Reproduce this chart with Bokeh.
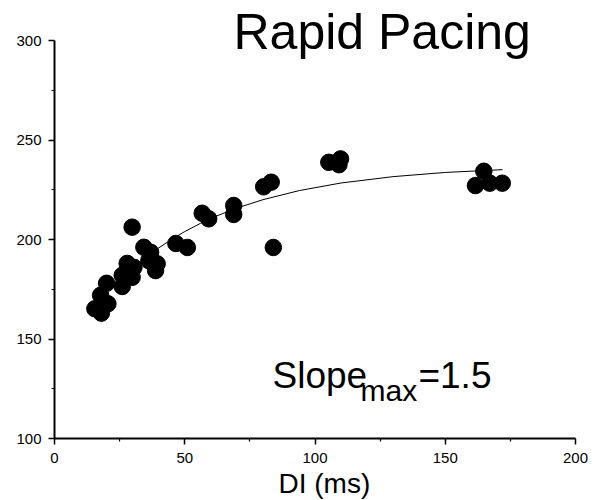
from bokeh.plotting import figure
from bokeh.models import Range1d, Label, FixedTicker, Title
from bokeh.embed import file_html
from bokeh.resources import INLINE

# Data
di = [15.5, 18.0, 20.5, 17.7, 20.0, 26.0, 26.0, 27.9, 29.8, 30.5, 29.0, 29.8,
      34.3, 36.9, 36.2, 39.4, 38.8, 46.6, 51.0, 84.0, 56.7, 59.2, 68.8, 68.8,
      80.3, 83.2, 105.3, 109.8, 109.2, 164.8, 161.6, 167.1, 171.9]
apd = [165.2, 163.0, 167.7, 172.0, 178.0, 176.4, 182.0, 188.0, 181.0, 186.0, 184.0, 206.2,
       196.1, 193.6, 189.4, 187.8, 184.4, 198.0, 196.0, 196.0, 213.2, 210.4, 217.1, 212.6,
       226.5, 228.8, 238.8, 240.5, 237.6, 234.3, 227.1, 228.3, 228.3]

# Fit curve
fit_x = [39, 45, 50, 56, 62, 70, 80, 94, 110, 130, 150, 172]
fit_y = [194.9, 200.1, 204.0, 208.1, 211.7, 215.8, 220.0, 224.6, 228.4, 231.6, 233.7, 235.1]

x_ticks = [0, 50, 100, 150, 200]
x_minor = [25, 75, 125, 175]
y_ticks = [100, 150, 200, 250, 300]
y_minor = [125, 175, 225, 275]

title_text = "Rapid Pacing"
slope_main = "Slope"
slope_sub = "max"
slope_val = "=1.5"
x_label = "DI (ms)"

FONT = "Liberation Sans"

W, H = 596, 500
p = figure(width=W, height=H, output_backend="svg", toolbar_location=None,
           x_range=Range1d(0, 200), y_range=Range1d(100, 317.6),
           min_border_left=54, min_border_right=W - 575, min_border_top=5,
           min_border_bottom=H - 438)
p.outline_line_color = None
p.xgrid.visible = False
p.ygrid.visible = False

p.line(fit_x, fit_y, line_color="black", line_width=1)
p.scatter(di, apd, size=16.5, fill_color="black", line_color="black")

p.xaxis.ticker = FixedTicker(ticks=x_ticks, minor_ticks=x_minor)
p.yaxis.ticker = FixedTicker(ticks=y_ticks, minor_ticks=y_minor)
p.yaxis.bounds = (100, 300)
p.xaxis.bounds = (0, 200)

for ax in (p.xaxis, p.yaxis):
    ax.axis_line_width = 2
    ax.axis_line_color = "black"
    ax.major_tick_line_width = 1.5
    ax.minor_tick_line_width = 1.2
    ax.major_tick_in = 0
    ax.major_tick_out = 6
    ax.minor_tick_in = 0
    ax.minor_tick_out = 3
    ax.major_label_text_font = FONT
    ax.major_label_text_font_size = "15px"
    ax.major_label_text_color = "black"

p.xaxis.major_label_standoff = 8
p.yaxis.major_label_standoff = 7

# x-axis label, slightly right of centre as in the reference
p.add_layout(Title(text=x_label, align="left", offset=224, standoff=0,
                   text_font=FONT, text_font_size="28px", text_font_style="normal",
                   text_color="black"), "below")

p.add_layout(Label(x=68.7, y=304.5, text=title_text, text_font=FONT, text_font_size="50px",
                   text_color="black", text_baseline="alphabetic"))
p.add_layout(Label(x=83.7, y=131.7, text=slope_main, text_font=FONT, text_font_size="37px",
                   text_color="black", text_baseline="alphabetic"))
p.add_layout(Label(x=117.5, y=123.9, text=slope_sub, text_font=FONT, text_font_size="30px",
                   text_color="black", text_baseline="alphabetic"))
p.add_layout(Label(x=139.7, y=131.7, text=slope_val, text_font=FONT, text_font_size="37px",
                   text_color="black", text_baseline="alphabetic"))

open("out.html", "w").write(file_html(p, INLINE))
